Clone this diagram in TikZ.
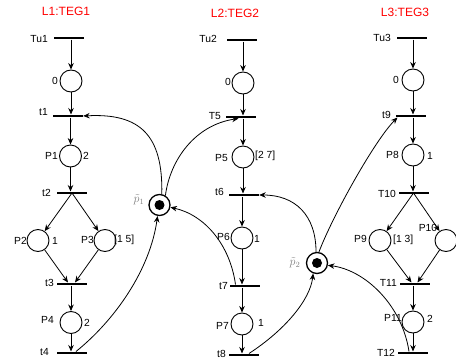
\documentclass[tikz,border=0pt]{standalone}
\usepackage{fontspec}
\setmainfont{Liberation Sans}
\usetikzlibrary{arrows.meta}
\tikzset{
 place/.style={circle, draw, line width=0.9pt, minimum size=22pt, inner sep=0pt},
 trans/.style={rectangle, fill=black, minimum width=30pt, minimum height=2.6pt, inner sep=0pt},
 res/.style={circle, draw, line width=1.3pt, minimum size=21pt, inner sep=0pt},
 tok/.style={circle, fill=black, minimum size=10pt, inner sep=0pt},
 arr/.style={-{Stealth[length=6.5pt,width=5.5pt]}, line width=0.8pt},
 lbl/.style={font=\fontsize{10.3}{12}\selectfont, inner sep=0pt},
 ttl/.style={font=\fontsize{12}{14}\selectfont, text=red, inner sep=0pt},
 ptl/.style={text=gray, font=\fontsize{11.5}{13}\selectfont, inner sep=0pt}
}
\begin{document}
\begin{tikzpicture}[x=1pt,y=-1pt]
\useasboundingbox (0,0) rectangle (456,362);
% titles
\node[ttl] (L1) at (66,11) {L1:TEG1};
\node[ttl] (L2) at (235,13) {L2:TEG2};
\node[ttl] (L3) at (405,12) {L3:TEG3};

% ---------- column 1 ----------
\node[trans] (Tu1) at (69,38) {};
\node[trans] (t1) at (68,116) {};
\node[trans] (t2) at (72,193) {};
\node[trans] (t3) at (72,284) {};
\node[trans] (t4) at (72,353) {};
\node[place] (c0a) at (71,81) {};
\node[place] (P1) at (70.5,156) {};
\node[place] (P2) at (38,240.5) {};
\node[place] (P3) at (105,240.5) {};
\node[place] (P4) at (71,322.5) {};
\node[lbl, anchor=east] (lTu1) at (48,39) {Tu1};
\node[lbl, anchor=east] (l0a) at (58,81) {0};
\node[lbl, anchor=east] (lt1) at (48,112) {t1};
\node[lbl, anchor=east] (lP1) at (58,156) {P1};
\node[lbl, anchor=west] (mP1) at (83,156) {2};
\node[lbl, anchor=east] (lt2) at (51,193) {t2};
\node[lbl, anchor=east] (lP2) at (27,241) {P2};
\node[lbl, anchor=west] (mP2) at (52,241) {1};
\node[lbl, anchor=east] (lP3) at (94,240) {P3};
\node[lbl, anchor=west] (mP3) at (114,240) {[1 5]};
\node[lbl, anchor=east] (lt3) at (54,283) {t3};
\node[lbl, anchor=east] (lP4) at (54,320) {P4};
\node[lbl, anchor=west] (mP4) at (84,323) {2};
\node[lbl, anchor=east] (lt4) at (49,352) {t4};

\draw[arr] (Tu1.south -| c0a) -- (c0a);
\draw[arr] (c0a) -- (t1.north -| c0a);
\draw[arr] (t1.south -| P1) -- (P1);
\draw[arr] (P1) -- (t2.north -| P1);
\draw[arr] (t2.center) -- (P2);
\draw[arr] (t2.center) -- (P3);
\draw[arr] (P2) -- ([xshift=-4pt]t3.north);
\draw[arr] (P3) -- ([xshift=3pt]t3.north);
\draw[arr] (t3.south -| P4) -- (P4);
\draw[arr] (P4) -- (t4.north -| P4);

% ---------- column 2 ----------
\node[trans] (Tu2) at (241.5,40) {};
\node[trans] (T5) at (240.5,117) {};
\node[trans] (t6) at (244,195) {};
\node[trans] (t7) at (244.5,286) {};
\node[trans] (t8) at (244,355) {};
\node[place] (c0b) at (243,83) {};
\node[place] (P5) at (243,157) {};
\node[place] (P6) at (242,238) {};
\node[place] (P7) at (242,324) {};
\node[lbl, anchor=east] (lTu2) at (217,39) {Tu2};
\node[lbl, anchor=east] (l0b) at (231,82) {0};
\node[lbl, anchor=east] (lT5) at (221,116) {T5};
\node[lbl, anchor=east] (lP5) at (228,158) {P5};
\node[lbl, anchor=west] (mP5) at (255,156) {[2 7]};
\node[lbl, anchor=east] (lt6) at (224,192) {t6};
\node[lbl, anchor=east] (lP6) at (230,237) {P6};
\node[lbl, anchor=west] (mP6) at (254,239) {1};
\node[lbl, anchor=east] (lt7) at (228,286) {t7};
\node[lbl, anchor=east] (lP7) at (229,326) {P7};
\node[lbl, anchor=west] (mP7) at (258,323) {1};
\node[lbl, anchor=east] (lt8) at (226,354) {t8};

\draw[arr] (Tu2.south -| c0b) -- (c0b);
\draw[arr] (c0b) -- (T5.north -| c0b);
\draw[arr] (T5.south -| P5) -- (P5);
\draw[arr] (P5) -- (t6.north -| P5);
\draw[arr] (t6.south -| P6) -- (P6);
\draw[arr] (P6) -- (t7.north -| P6);
\draw[arr] (t7.south -| P7) -- (P7);
\draw[arr] (P7) -- (t8.north -| P7);

% ---------- column 3 ----------
\node[trans] (Tu3) at (411.5,38) {};
\node[trans] (t9) at (410.5,116) {};
\node[trans] (T10) at (413.5,193) {};
\node[trans] (T11) at (414.5,284) {};
\node[trans] (T12) at (413,353) {};
\node[place] (c0c) at (413,80) {};
\node[place] (P8) at (413,155) {};
\node[place] (P9) at (380,240.5) {};
\node[place] (P10) at (446,240.5) {};
\node[place] (P11) at (413,322) {};
\node[lbl, anchor=east] (lTu3) at (391,38) {Tu3};
\node[lbl, anchor=east] (l0c) at (399,80) {0};
\node[lbl, anchor=east] (lt9) at (391,115) {t9};
\node[lbl, anchor=east] (lP8) at (399,155) {P8};
\node[lbl, anchor=west] (mP8) at (427,156) {1};
\node[lbl, anchor=east] (lT10) at (396,194) {T10};
\node[lbl, anchor=east] (lP9) at (367,239) {P9};
\node[lbl, anchor=west] (mP9) at (393,240) {[1 3]};
\node[lbl] (lP10) at (428,228) {P10};
\node[lbl, anchor=east] (lT11) at (397,283) {T11};
\node[lbl] (lP11) at (393,318) {P11};
\node[lbl, anchor=west] (mP11) at (427,319) {2};
\node[lbl, anchor=east] (lT12) at (395,353) {T12};

\draw[arr] (Tu3.south -| c0c) -- (c0c);
\draw[arr] (c0c) -- (t9.north -| c0c);
\draw[arr] (t9.south -| P8) -- (P8);
\draw[arr] (P8) -- (T10.north -| P8);
\draw[arr] (T10.center) -- (P9);
\draw[arr] (T10.center) -- (P10);
\draw[arr] (P9) -- ([xshift=-3pt]T11.north);
\draw[arr] (P10) -- ([xshift=3pt]T11.north);
\draw[arr] (T11.south -| P11) -- (P11);
\draw[arr] (P11) -- (T12.north -| P11);

% ---------- shared resources ----------
\node[res] (rp1) at (159.5,205) {};
\node[tok] (rp1t) at (159.5,205) {};
\node[ptl] (lrp1) at (139,200) {$\tilde{p}_1$};
\node[res] (rp2) at (317,263) {};
\node[tok] (rp2t) at (317,263) {};
\node[ptl] (lrp2) at (295,263) {$\tilde{p}_2$};

\draw[arr] (rp1.78) .. controls (163,135) and (140,113) .. (t1.east);
\draw[arr] (rp1.58) .. controls (170,160) and (195,125) .. ([xshift=-2pt]T5.south);
\draw[arr] ([xshift=-9pt]t7.north) .. controls (230,245) and (205,215) .. (rp1.-12);
\draw[arr] ([xshift=4pt]t4.north) .. controls (115,320) and (150,270) .. (rp1.-100);

\draw[arr] (rp2.95) .. controls (316,215) and (295,195) .. (t6.east);
\draw[arr] (rp2.80) .. controls (333,215) and (375,140) .. ([xshift=-13pt]t9.south);
\draw[arr] ([xshift=5pt]t8.north) .. controls (285,330) and (310,300) .. (rp2.-110);
\draw[arr] ([xshift=-4pt]T12.north) .. controls (402,305) and (365,270) .. (rp2.-12);
\end{tikzpicture}
\end{document}
